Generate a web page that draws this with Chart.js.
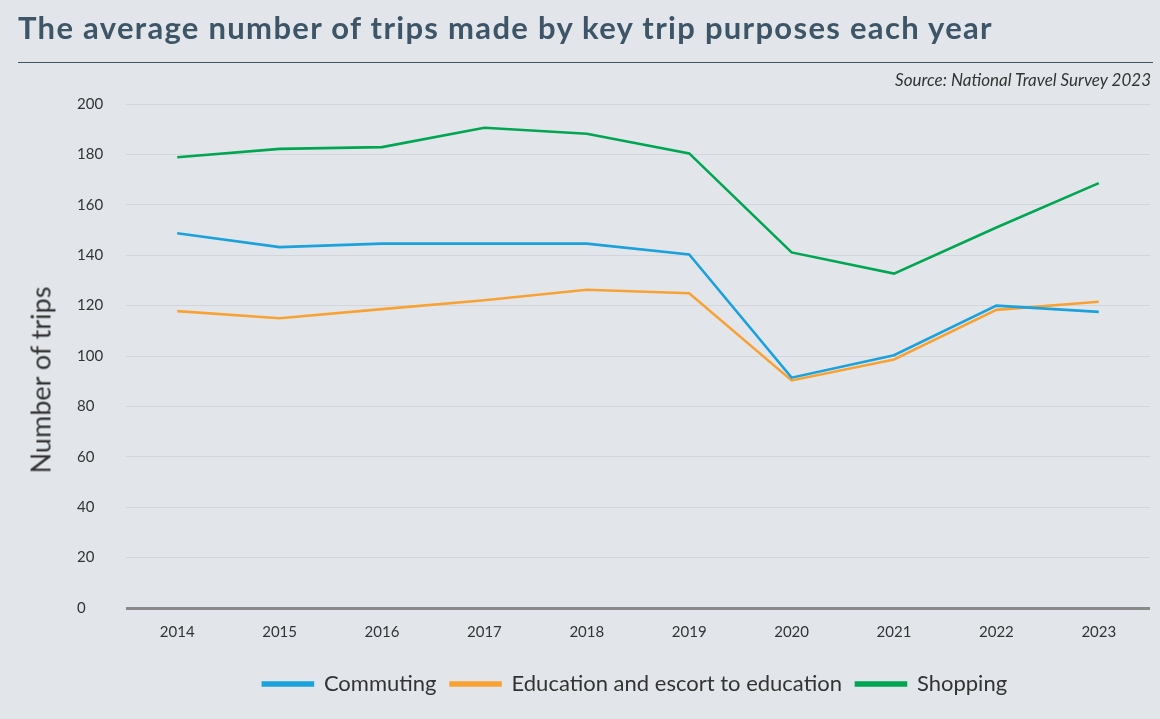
<!DOCTYPE html>
<html>
<head>
<meta charset="utf-8">
<script src="https://cdn.jsdelivr.net/npm/chart.js@4/dist/chart.umd.min.js"></script>
<style>
  html, body { margin: 0; padding: 0; background: #e2e6eb; }
  body { width: 1160px; height: 719px; position: relative; overflow: hidden; font-family: Lato, "Open Sans", sans-serif; }
  #title { position: absolute; left: 18px; top: 12px; font: 700 31px/31px Lato, sans-serif; letter-spacing: 1.3px; color: #3e5568; white-space: nowrap; }
  #rule { position: absolute; left: 18px; top: 62px; width: 1135px; height: 0; border-top: 1.5px solid #3e5568; }
  #source { position: absolute; right: 9px; top: 71px; font: italic 400 17px/17px Lato, sans-serif; color: #333; white-space: nowrap; }
  #ytitle { position: absolute; left: 40px; top: 380px; transform: translate(-50%, -50%) rotate(-90deg); font: 400 27px/27px Lato, sans-serif; color: #333; white-space: nowrap; }
  #wrap { position: absolute; left: 0; top: 0; width: 1160px; height: 719px; }
</style>
</head>
<body>
<div id="wrap"><canvas id="c" width="1160" height="719"></canvas></div>
<div id="title">The average number of trips made by key trip purposes each year</div>
<div id="rule"></div>
<div id="source">Source: National Travel Survey 2023</div>
<div id="ytitle">Number of trips</div>
<script>
const years = ["2014","2015","2016","2017","2018","2019","2020","2021","2022","2023"];
const commuting = [148.7, 143.2, 144.6, 144.6, 144.6, 140.3, 91.4, 100.3, 120.0, 117.5];
const education = [117.8, 115.0, 118.6, 122.1, 126.3, 124.9, 90.3, 98.6, 118.3, 121.5];
const shopping = [178.9, 182.2, 182.9, 190.6, 188.2, 180.4, 141.1, 132.7, 151.0, 168.6];
const seriesNames = ["Commuting", "Education and escort to education", "Shopping"];
const seriesColors = ["#1ba1dc", "#f8a236", "#00a651"];

const ds = [commuting, education, shopping].map((d, i) => ({
  label: seriesNames[i],
  data: d,
  borderColor: seriesColors[i],
  backgroundColor: seriesColors[i],
  borderWidth: 2.6,
  pointRadius: 0,
  tension: 0,
  fill: false
}));

const legendShift = {
  id: 'legendShift',
  afterLayout(chart) {
    if (chart.legend) { chart.legend.left = 120; }
  }
};

new Chart(document.getElementById('c'), {
  type: 'line',
  data: { labels: years, datasets: ds },
  plugins: [legendShift],
  options: {
    responsive: false,
    animation: false,
    layout: { padding: { top: 104, left: 77, right: 10, bottom: 14 } },
    plugins: {
      tooltip: { enabled: false },
      legend: {
        position: 'bottom',
        labels: {
          boxWidth: 50,
          boxHeight: 3,
          padding: 14,
          color: '#333',
          font: { family: 'Lato', size: 22 }
        }
      }
    },
    scales: {
      x: {
        offset: true,
        grid: { display: false, drawTicks: false },
        border: { display: false },
        ticks: { color: '#333', padding: 15, font: { family: 'Lato', size: 15 }, maxRotation: 0 },
        afterFit: s => { s.height = 51; }
      },
      y: {
        min: 0, max: 200,
        ticks: { stepSize: 20, color: '#333', crossAlign: 'far', padding: 10, font: { family: 'Lato', size: 15 } },
        grid: {
          drawTicks: false,
          color: c => c.tick && c.tick.value === 0 ? '#8a8a8a' : '#d2d6db',
          lineWidth: c => c.tick && c.tick.value === 0 ? 3 : 1
        },
        border: { display: false },
        afterFit: s => { s.width = 49; }
      }
    }
  }
});
</script>
</body>
</html>
